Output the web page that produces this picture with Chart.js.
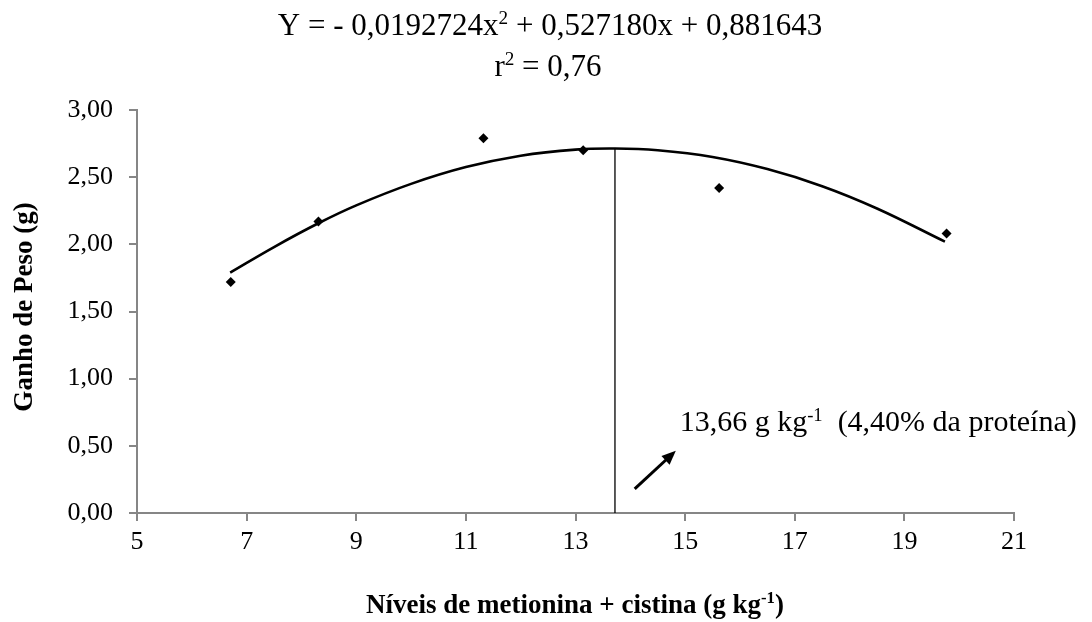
<!DOCTYPE html>
<html>
<head>
<meta charset="utf-8">
<script src="https://cdn.jsdelivr.net/npm/chart.js@4.4.1/dist/chart.umd.min.js"></script>
<style>
  html, body { margin: 0; padding: 0; background: #fff; }
  #wrap { width: 1092px; height: 622px; }
</style>
</head>
<body>
<div id="wrap"><canvas id="chartGain" width="1092" height="622"></canvas></div>
<script>
// observed points
var levels = [6.71, 8.31, 11.32, 13.14, 15.62, 19.77];
var gains = [1.72, 2.17, 2.79, 2.70, 2.42, 2.08];

// fitted curve
var curveX = [6.7, 7.5, 8.3, 9, 10, 11, 12, 13, 13.72, 14.5, 15.5, 16.5, 17.5, 18.5, 19.74];
var curveY = [1.79, 1.98, 2.155, 2.29, 2.45, 2.575, 2.66, 2.705, 2.713, 2.70, 2.65, 2.56, 2.433, 2.267, 2.02];

// optimum level (line drawn where the picture shows it)
var optX = 13.72;
var optY = 2.713;

// axes
var xTicks = [5, 7, 9, 11, 13, 15, 17, 19, 21];
var yTicks = [0, 0.5, 1, 1.5, 2, 2.5, 3];

var serif = "'Liberation Serif', 'Times New Roman', serif";
var axisGray = '#868686';

function toPairs(xs, ys) {
    return xs.map(function (x, i) { return { x: x, y: ys[i] }; });
}

// draws text pieces, some of them as superscripts
function drawRuns(ctx, runs, x, y, size, bold, align) {
    var w = 0;
    runs.forEach(function (r) {
        ctx.font = (bold ? 'bold ' : '') + (r.sup ? size * 0.62 : size) + 'px ' + serif;
        r.w = ctx.measureText(r.t).width;
        w += r.w;
    });
    var cx = align === 'center' ? x - w / 2 : x;
    runs.forEach(function (r) {
        ctx.font = (bold ? 'bold ' : '') + (r.sup ? size * 0.62 : size) + 'px ' + serif;
        ctx.fillText(r.t, cx, r.sup ? y - size * 0.36 : y);
        cx += r.w;
    });
}

var textPlugin = {
    id: 'texts',
    afterDraw: function (chart) {
        var ctx = chart.ctx;
        var xs = chart.scales.x, ys = chart.scales.y;
        ctx.save();
        ctx.fillStyle = '#000';
        ctx.textBaseline = 'alphabetic';
        ctx.textAlign = 'left';

        // equation
        drawRuns(ctx, [{ t: 'Y = - 0,0192724x' }, { t: '2', sup: true }, { t: ' + 0,527180x + 0,881643' }], 550, 35, 31, false, 'center');
        drawRuns(ctx, [{ t: 'r' }, { t: '2', sup: true }, { t: ' = 0,76' }], 548, 76, 31, false, 'center');

        // axis titles
        drawRuns(ctx, [{ t: 'Níveis de metionina + cistina (g kg' }, { t: '-1', sup: true }, { t: ')' }], 575, 613, 27, true, 'center');
        ctx.save();
        ctx.translate(32, 307);
        ctx.rotate(-Math.PI / 2);
        drawRuns(ctx, [{ t: 'Ganho de Peso (g)' }], 0, 0, 27, true, 'center');
        ctx.restore();

        // annotation
        var tx = xs.getPixelForValue(14.90), ty = ys.getPixelForValue(0.607);
        drawRuns(ctx, [{ t: '13,66 g kg' }, { t: '-1', sup: true }, { t: '  (4,40% da proteína)' }], tx, ty, 30, false, 'left');

        // arrow
        var x1 = xs.getPixelForValue(14.08), y1 = ys.getPixelForValue(0.18);
        var x2 = xs.getPixelForValue(14.83), y2 = ys.getPixelForValue(0.463);
        var a = Math.atan2(y2 - y1, x2 - x1);
        ctx.strokeStyle = '#000';
        ctx.lineWidth = 3;
        ctx.beginPath();
        ctx.moveTo(x1, y1);
        ctx.lineTo(x2 - 8 * Math.cos(a), y2 - 8 * Math.sin(a));
        ctx.stroke();
        ctx.beginPath();
        ctx.moveTo(x2, y2);
        ctx.lineTo(x2 - 14 * Math.cos(a) + 6 * Math.sin(a), y2 - 14 * Math.sin(a) - 6 * Math.cos(a));
        ctx.lineTo(x2 - 14 * Math.cos(a) - 6 * Math.sin(a), y2 - 14 * Math.sin(a) + 6 * Math.cos(a));
        ctx.closePath();
        ctx.fill();
        ctx.restore();
    }
};

new Chart(document.getElementById('chartGain'), {
    type: 'scatter',
    data: {
        datasets: [
            {
                label: 'curva',
                data: toPairs(curveX, curveY),
                showLine: true,
                borderColor: '#000',
                borderWidth: 2.6,
                pointRadius: 0,
                tension: 0.4,
                order: 2
            },
            {
                label: 'ótimo',
                data: [{ x: optX, y: 0 }, { x: optX, y: optY }],
                showLine: true,
                borderColor: '#000',
                borderWidth: 1.3,
                pointRadius: 0,
                order: 3
            },
            {
                label: 'Ganho de Peso',
                data: toPairs(levels, gains),
                pointStyle: 'rectRot',
                pointRadius: 5,
                backgroundColor: '#000',
                borderColor: '#000',
                borderWidth: 0,
                order: 1
            }
        ]
    },
    options: {
        responsive: false,
        animation: false,
        layout: { padding: { left: 0, top: 110, right: 78, bottom: 0 } },
        plugins: {
            legend: { display: false },
            tooltip: { enabled: false }
        },
        scales: {
            x: {
                type: 'linear',
                min: 5,
                max: 21,
                afterBuildTicks: function (s) { s.ticks = xTicks.map(function (v) { return { value: v }; }); },
                afterFit: function (s) { s.height = 109; },
                ticks: {
                    color: '#000',
                    font: { family: serif, size: 26 },
                    padding: 6,
                    maxRotation: 0
                },
                grid: { drawOnChartArea: false, drawTicks: true, tickLength: 8, color: axisGray, lineWidth: 2 },
                border: { color: axisGray, width: 2 }
            },
            y: {
                min: 0,
                max: 3,
                afterBuildTicks: function (s) { s.ticks = yTicks.map(function (v) { return { value: v }; }); },
                afterFit: function (s) { s.width = 137; },
                ticks: {
                    color: '#000',
                    font: { family: serif, size: 26 },
                    padding: 16,
                    callback: function (v) { return v.toFixed(2).replace('.', ','); }
                },
                grid: { drawOnChartArea: false, drawTicks: true, tickLength: 8, color: axisGray, lineWidth: 2 },
                border: { color: axisGray, width: 2 }
            }
        }
    },
    plugins: [textPlugin]
});
</script>
</body>
</html>
